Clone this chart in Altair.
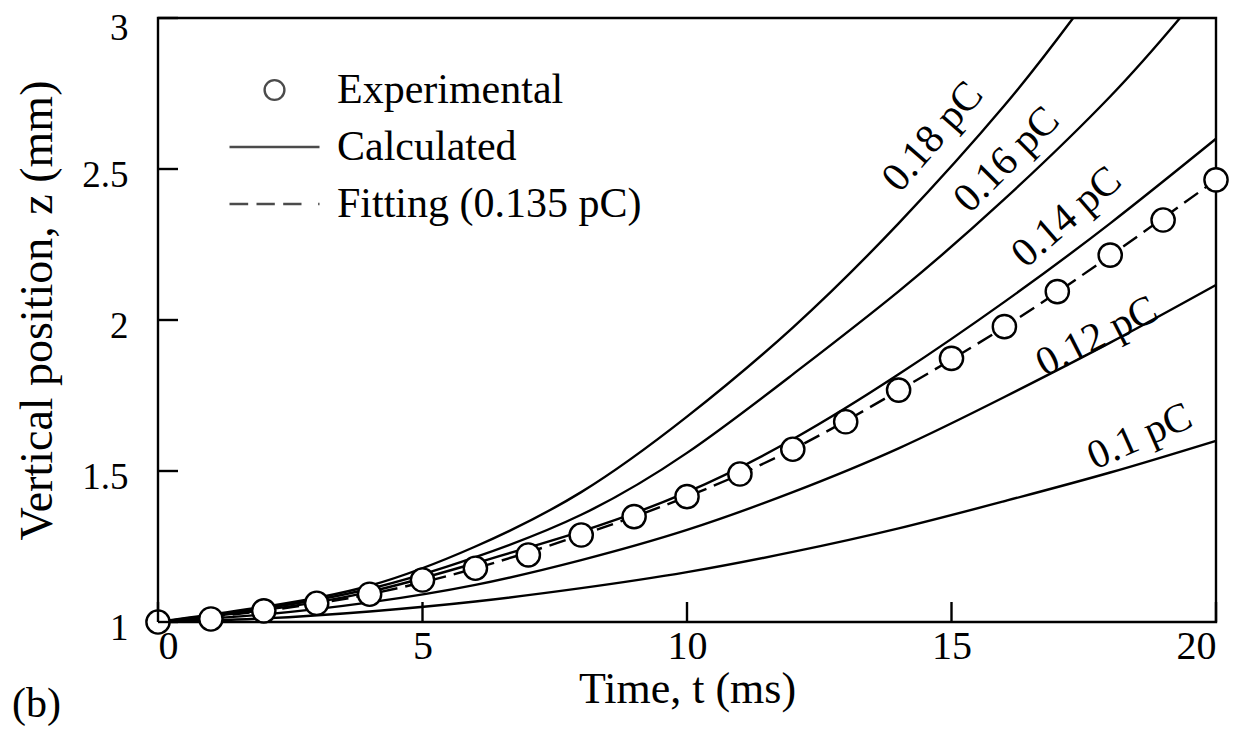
import altair as alt
import pandas as pd

# ---------------- data ----------------
t_calc = [0, 2, 4, 6, 8, 10, 12, 14, 16, 18, 20]
z_010 = [1.0, 1.012, 1.035, 1.068, 1.112, 1.165, 1.232, 1.31, 1.40, 1.495, 1.60]
z_012 = [1.0, 1.025, 1.065, 1.123, 1.205, 1.305, 1.43, 1.575, 1.745, 1.925, 2.116]
z_014 = [1.0, 1.04, 1.10, 1.195, 1.30, 1.43, 1.605, 1.82, 2.06, 2.32, 2.60]
t_016 = [0, 2, 4, 6, 8, 10, 12, 14, 16, 18, 19.32]
z_016 = [1.0, 1.045, 1.11, 1.215, 1.355, 1.56, 1.82, 2.095, 2.40, 2.74, 3.0]
t_018 = [0, 2, 4, 6, 8, 10, 12, 14, 16, 17.3]
z_018 = [1.0, 1.05, 1.12, 1.25, 1.43, 1.68, 1.975, 2.32, 2.71, 3.0]

t_exp = list(range(0, 21))
z_exp = [1.0, 1.01, 1.037, 1.062, 1.092, 1.139, 1.178, 1.222, 1.288, 1.349, 1.415,
         1.49, 1.572, 1.663, 1.768, 1.873, 1.978, 2.094, 2.215, 2.331, 2.464]

t_fit = [0, 2, 4, 6, 8, 10, 12, 14, 16, 18, 20]
z_fit = [1.0, 1.037, 1.092, 1.178, 1.288, 1.415, 1.572, 1.766, 1.977, 2.213, 2.464]

curve_labels = ["0.18 pC", "0.16 pC", "0.14 pC", "0.12 pC", "0.1 pC"]
label_t = [14.65, 16.05, 17.18, 17.75, 18.56]
label_z = [2.606, 2.53, 2.34, 1.944, 1.613]
label_angle = [311, 315, 319, 333, 336]

legend_names = ["Experimental", "Calculated", "Fitting (0.135 pC)"]
x_ticks = [0, 5, 10, 15, 20]
y_ticks = [1, 1.5, 2, 2.5, 3]

# ---------------- tables ----------------
rows = []
for name, ts, zs in [("0.1", t_calc, z_010), ("0.12", t_calc, z_012), ("0.14", t_calc, z_014),
                     ("0.16", t_016, z_016), ("0.18", t_018, z_018)]:
    for t, z in zip(ts, zs):
        rows.append({"series": name, "t": t, "z": z})
calc_df = pd.DataFrame(rows)
exp_df = pd.DataFrame({"t": t_exp, "z": z_exp})
fit_df = pd.DataFrame({"t": t_fit, "z": z_fit})
lab_df = pd.DataFrame({"label": curve_labels, "t": label_t, "z": label_z, "angle": label_angle})
leg_df = pd.DataFrame({"kind": legend_names})
xt_df = pd.DataFrame({"t": x_ticks})
yt_df = pd.DataFrame({"z": y_ticks})

FONT = "Liberation Serif"
W, H = 1058, 604
LW = 2.4

xscale = alt.Scale(domain=[0, 20], nice=False, zero=False)
yscale = alt.Scale(domain=[1, 3], nice=False, zero=False)

X = alt.X("t:Q", scale=xscale,
          axis=alt.Axis(title="Time, t (ms)", values=x_ticks, format="d", ticks=False,
                        domain=False, grid=False, labelPadding=4, labelFontSize=40,
                        titleFontSize=44, titleBaseline="middle", titleY=67))
Y = alt.Y("z:Q", scale=yscale,
          axis=alt.Axis(title="Vertical position, z (mm)", values=y_ticks, format="~g",
                        ticks=False, domain=False, grid=False, labelPadding=30,
                        labelOffset={"condition": {"test": "datum.value >= 3", "value": 10},
                                     "value": 6},
                        labelFontSize=37, titleFontSize=46,
                        titleBaseline="middle", titleX=-121, titleY=H / 2 - 10))

calc = alt.Chart(calc_df).mark_line(color="black", strokeWidth=LW, interpolate="natural").encode(
    x=X, y=Y, detail="series:N")

fit = alt.Chart(fit_df).mark_line(color="black", strokeWidth=LW, strokeDash=[17, 8],
                                  interpolate="natural").encode(x="t:Q", y="z:Q")

pts = alt.Chart(exp_df).mark_point(shape="circle", filled=True, fill="white", stroke="black",
                                   strokeWidth=LW, size=540, opacity=1).encode(x="t:Q", y="z:Q")

labels = alt.Chart(lab_df).mark_text(font=FONT, fontSize=41, color="black").encode(
    x="t:Q", y="z:Q", text="label:N", angle=alt.Angle("angle:Q", scale=None))

xt = alt.Chart(xt_df).mark_rule(color="black", strokeWidth=LW).encode(
    x="t:Q", y=alt.value(H), y2=alt.value(H - 20))
yt = alt.Chart(yt_df).mark_rule(color="black", strokeWidth=LW).encode(
    y="z:Q", x=alt.value(0), x2=alt.value(20))

circle_path = "M-0.22,0A0.22,0.22,0,1,1,0.22,0A0.22,0.22,0,1,1,-0.22,0Z"
line_path = "M-1,0L1,0"
dash_path = "M-1,0L-0.585,0M-0.4,0L0.007,0M0.193,0L0.6,0M0.97,0L1,0"

legend_layer = alt.Chart(leg_df).mark_point(filled=False, color="black", strokeWidth=LW).encode(
    x=alt.value(-2000), y=alt.value(-2000),
    shape=alt.Shape("kind:N",
                    scale=alt.Scale(domain=legend_names, range=[circle_path, line_path, dash_path]),
                    legend=alt.Legend(title=None, orient="none", legendX=70, legendY=46,
                                      symbolSize=8100, symbolStrokeWidth=LW,
                                      symbolStrokeColor="black", symbolFillColor="transparent",
                                      labelFont=FONT, labelFontSize=42, labelOffset=16,
                                      labelLimit=0, labelColor="black", clipHeight=52,
                                      rowPadding=5)))

btxt = alt.Chart(pd.DataFrame({"txt": ["(b)"]})).mark_text(
    font=FONT, fontSize=42, color="black", align="left", baseline="middle").encode(
    x=alt.value(-146), y=alt.value(686), text="txt:N")

chart = alt.layer(calc, fit, pts, labels, xt, yt, legend_layer, btxt).properties(
    width=W, height=H,
    autosize=alt.AutoSizeParams(type="none"),
    padding={"left": 150, "top": 10, "right": 30, "bottom": 108},
).configure_view(stroke="black", strokeWidth=LW).configure_axis(
    labelFont=FONT, labelColor="black",
    titleFont=FONT, titleColor="black", titleFontWeight="normal",
)

chart.save("out.html", embed_options={"renderer": "svg", "actions": False})
